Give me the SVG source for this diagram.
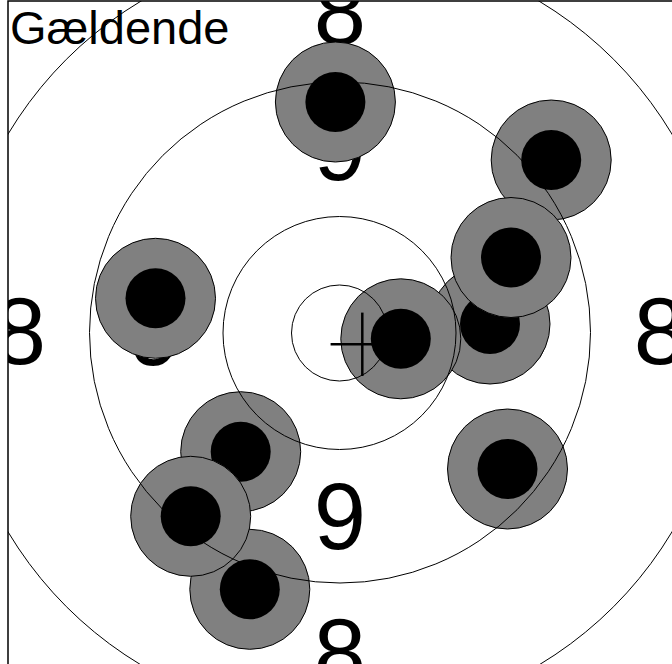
<svg xmlns="http://www.w3.org/2000/svg" width="672" height="664" viewBox="0 0 672 664">
<style>
.lbl{font-family:"Liberation Sans",Arial,sans-serif;font-size:94px;fill:#000;text-anchor:middle}
.title{font-family:"Liberation Sans",Arial,sans-serif;font-size:47px;fill:#000}
.ring{fill:none;stroke:#000;stroke-width:1}
.outer{fill:#808080;stroke:#000;stroke-width:1}
.inner{fill:#000}
</style>
<defs>
<g id="shot"><circle class="outer" r="60"/><circle class="inner" r="30"/></g>
<clipPath id="frameclip"><rect x="8" y="1" width="700" height="700"/></clipPath>
</defs>
<rect x="0" y="0" width="672" height="664" fill="#fff"/>
<g clip-path="url(#frameclip)">
<g id="labels">
<text class="lbl" x="340" y="43.5">8</text>
<text class="lbl" x="340" y="180">9</text>
<text class="lbl" x="340" y="549">9</text>
<text class="lbl" x="340" y="685">8</text>
<text class="lbl" x="20" y="364">8</text>
<text class="lbl" x="155" y="365">9</text>
<text class="lbl" x="525" y="365">9</text>
<text class="lbl" x="660" y="364">8</text>
</g>
<g id="shots">
<use id="shot1" href="#shot" x="335.4" y="102"/>
<use id="shot2" href="#shot" x="551.2" y="160"/>
<use id="shot4" href="#shot" x="490" y="324"/>
<use id="shot5" href="#shot" x="400.8" y="338.8"/>
<use id="shot3" href="#shot" x="511" y="257.5"/>
<use id="shot6" href="#shot" x="155.5" y="298.3"/>
<use id="shot7" href="#shot" x="240.7" y="451.7"/>
<use id="shot9" href="#shot" x="249.8" y="589.3"/>
<use id="shot8" href="#shot" x="190.7" y="516.3"/>
<use id="shot10" href="#shot" x="507.5" y="469"/>
</g>
<g id="rings">
<circle class="ring" cx="339.5" cy="333" r="48"/>
<circle class="ring" cx="339.5" cy="333" r="116.5"/>
<circle class="ring" cx="340" cy="332.5" r="250.5"/>
<circle class="ring" cx="340" cy="333" r="387"/>
</g>
<g id="cross" stroke="#000" stroke-width="2.5">
<line x1="330.6" y1="344.3" x2="394" y2="344.3"/>
<line x1="362.3" y1="312.6" x2="362.3" y2="376"/>
</g>
<text class="title" x="10" y="44">Gældende</text>
</g>
<rect id="frame" x="8" y="1" width="700" height="700" fill="none" stroke="#000" stroke-width="1.5"/>
</svg>
